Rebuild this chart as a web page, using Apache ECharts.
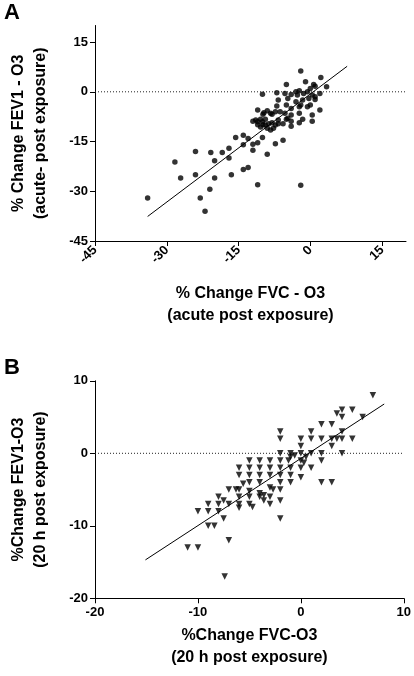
<!DOCTYPE html>
<html>
<head>
<meta charset="utf-8">
<script src="https://cdn.jsdelivr.net/npm/echarts@6/dist/echarts.min.js"></script>
<style>
html,body{margin:0;padding:0;background:#fff;}
#c{width:414px;height:676px;}
</style>
</head>
<body>
<div id="c"></div>
<script>
// Panel A: acute post exposure (FVC %change, FEV1 %change)
const pointsA = [
  [-34,-32],[-28.3,-21.2],[-27.1,-26],[-24,-18],[-24,-25],[-23,-32],[-22,-36],[-21,-29.4],
  [-20.8,-18.3],[-20,-20.8],[-20,-26],[-18.4,-18.3],[-17,-17],[-17,-20],[-16.5,-25],
  [-15.6,-13.8],[-14,-13.1],[-13,-14.1],[-14,-16],[-14,-23.4],[-13,-22.8],[-12,-15.8],
  [-11,-15.4],[-12,-17.6],[-10,-13.8],[-9,-18.8],[-7.3,-15.7],[-5.7,-14.6],[-11,-28],[-2,-28.2],
  [-2,6.3],[2.2,4.3],[-1,3],[-5,2.2],[0.7,2.2],[1,1.7],[0,1],[-0.6,0],[-1.4,-0.5],[-2.3,0.3],[-3,0],
  [-10,-0.7],[-7,-0.3],[-5.3,-0.5],[-4,-0.8],[-2.7,-1],[2,-0.5],[1,-1.5],[0.4,-1],[3.4,1.5],
  [-6.7,-2.5],[-4.7,-2],[-3,-3],[-1.6,-2.5],[-0.3,-2],[1,-2.3],
  [-7,-4.3],[-5,-4],[-4,-5],[-2.3,-4.5],[-0.6,-4.5],[0,-4],[-2,-4],
  [-11,-5.5],[-9.7,-6.3],[-8.3,-6.5],[-7.3,-6],[-6.3,-6],[-5.3,-6.5],[-4,-7],[-2.3,-6.5],[0.4,-7],[2,-5.5],
  [-12,-8.9],[-11,-9],[-10.4,-8.3],[-9.4,-8.3],[-8.7,-9.6],[-6.7,-9.6],[-5,-8.3],[-4,-8.9],[-2.3,-9.3],[-1.6,-8.3],[0.4,-8.9],
  [-11.4,-8.5],[-10,-9],[-9.4,-10],[-8,-9.3],[-7.3,-10],[-6.7,-8.5],[-5.7,-9.6],[-4.7,-8],[-4,-10.4],
  [-11,-9.9],[-10.4,-10.6],[-9.9,-9.9],[-9,-11],[-8.3,-11.5],[-7.7,-11],
  [-9.9,-6.8],[-9,-5.7],[-8,-6.8]
];
const fitA = [[-34,-37.6],[7.7,7.7]];
const zeroA = [[-45,0],[20,0]];
const ticksAX = [-45,-30,-15,0,15];
const ticksAY = [-45,-30,-15,0,15];

// Panel B: 20 h post exposure
const pointsB = [
  [7,8],[4,6],[5,6],[3.5,5.5],[4,5],[6,5],[2,4],[3,4],
  [-2,3],[1,3],[4,3],
  [-2,2],[0,2],[1,2],[2,2],[3,2],[3.5,2],[4,2],[5,2],
  [0,1],[3,1],
  [-2,0],[-1,0],[0,0],[1,0],[2,0],[4,0],
  [-1,-0.5],[-1.2,-1],[0.5,-0.5],[0,-1],[0.3,-1.3],[-0.6,-0.3],
  [2,-1],[1,-2],[2,-4],[3,-4],
  [-5,-1],[-4,-1],[-3,-1],[-2,-1],
  [-6,-2],[-5,-2],[-4,-2],[-3,-2],[-2,-2],[-1,-2],[0,-2],
  [-6,-3],[-5,-3],[-4,-3],[-3,-3],[-2,-3],[-1,-3],[0,-3.3],
  [-5.6,-4.2],[-5,-4],[-4,-4],[-2,-4],[-1,-4],
  [-3,-4.7],[-2.7,-5],[-2,-5],
  [-7,-5],[-6.3,-5],[-6,-5],[-5,-5.2],[-4,-5.5],[-3.6,-5.8],[-3,-6],[-4,-6],[-8,-6],[-6,-6],[-5,-6],
  [-2,-6.5],[-3.6,-6.5],
  [-9,-7],[-8,-7],[-7,-7],[-6,-7],[-5,-7],[-3,-7],[-4.7,-7.4],
  [-7.5,-6.5],[-6,-7.5],
  [-10,-8],[-9,-8],[-8,-8],
  [-7.5,-9],[-2,-9],
  [-9,-10],[-8.4,-10],
  [-7,-12],
  [-11,-13],[-10,-13],
  [-7.4,-17]
];
const fitB = [[-15.1,-14.7],[8.1,6.8]];
const zeroB = [[-20,0],[10,0]];

const FONT = 'Liberation Sans, Arial, sans-serif';
const labelStyle = {color:'#000', fontWeight:'bold', fontSize:13, fontFamily:FONT};
const nameStyle = {color:'#000', fontWeight:'bold', fontSize:16, fontFamily:FONT, lineHeight:22};
const axisCommon = {
  type:'value',
  axisLine:{show:true, onZero:false, lineStyle:{color:'#000', width:1}},
  axisTick:{show:true, length:5, lineStyle:{color:'#000', width:1}},
  splitLine:{show:false},
  nameLocation:'middle',
  nameTextStyle:nameStyle
};

const chart = echarts.init(document.getElementById('c'), null, {renderer:'canvas'});
chart.setOption({
  animation:false,
  backgroundColor:'#fff',
  grid:[
    {left:83, top:25.5, width:323, height:215.5},
    {left:83, top:380.8, width:322.5, height:217.5}
  ],
  xAxis:[
    Object.assign({}, axisCommon, {
      gridIndex:0, min:-45, max:20, interval:5,
      axisTick:Object.assign({}, axisCommon.axisTick, {customValues:ticksAX}),
      axisLabel:Object.assign({}, labelStyle, {customValues:ticksAX, rotate:45, margin:7}),
      name:'% Change FVC - O3\n(acute post exposure)', nameGap:42
    }),
    Object.assign({}, axisCommon, {
      gridIndex:1, min:-20, max:10, interval:10,
      axisLabel:Object.assign({}, labelStyle, {margin:8}),
      name:'%Change FVC-O3\n(20 h post exposure)', nameGap:26
    })
  ],
  yAxis:[
    Object.assign({}, axisCommon, {
      gridIndex:0, min:-45, max:20, interval:5,
      axisTick:Object.assign({}, axisCommon.axisTick, {customValues:ticksAY}),
      axisLabel:Object.assign({}, labelStyle, {customValues:ticksAY, margin:7}),
      name:'% Change FEV1 - O3\n(acute- post exposure)', nameGap:43
    }),
    Object.assign({}, axisCommon, {
      gridIndex:1, min:-20, max:10, interval:10,
      axisLabel:Object.assign({}, labelStyle, {margin:7}),
      name:'%Change FEV1-O3\n(20 h post exposure)', nameGap:43
    })
  ],
  graphic:[
    {type:'text', left:4, top:2, style:{text:'A', fill:'#000', font:'bold 22px ' + FONT}},
    {type:'text', left:4, top:357, style:{text:'B', fill:'#000', font:'bold 22px ' + FONT}}
  ],
  series:[
    {type:'line', xAxisIndex:0, yAxisIndex:0, data:zeroA, showSymbol:false, silent:true,
     lineStyle:{color:'#222', width:1, type:[1,2]}, z:1},
    {type:'line', xAxisIndex:0, yAxisIndex:0, data:fitA, showSymbol:false, silent:true,
     lineStyle:{color:'#000', width:1}, z:2},
    {type:'scatter', xAxisIndex:0, yAxisIndex:0, data:pointsA, symbol:'circle', symbolSize:5.5,
     itemStyle:{color:'#000'}, z:3},
    {type:'line', xAxisIndex:1, yAxisIndex:1, data:zeroB, showSymbol:false, silent:true,
     lineStyle:{color:'#222', width:1, type:[1,2]}, z:1},
    {type:'line', xAxisIndex:1, yAxisIndex:1, data:fitB, showSymbol:false, silent:true,
     lineStyle:{color:'#000', width:1}, z:2},
    {type:'scatter', xAxisIndex:1, yAxisIndex:1, data:pointsB, symbol:'triangle', symbolRotate:180, symbolSize:6.5,
     itemStyle:{color:'#000'}, z:3}
  ]
});
</script>
</body>
</html>
